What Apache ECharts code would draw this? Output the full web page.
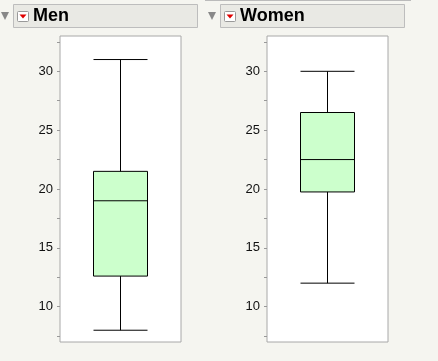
<!DOCTYPE html>
<html>
<head>
<meta charset="utf-8">
<script src="https://cdn.jsdelivr.net/npm/echarts@6/dist/echarts.min.js"></script>
<style>
html,body{margin:0;padding:0;background:#f5f5f0;}
#c{width:438px;height:361px;}
</style>
</head>
<body>
<div id="c"></div>
<script>
const panels = ['Men', 'Women'];
// [min, Q1, median, Q3, max]
const menBox = [8, 12.6, 19, 21.5, 31];
const womenBox = [12, 19.75, 22.5, 26.5, 30];
const yLabels = [10, 15, 20, 25, 30];
const yTicks = [7.5, 10, 12.5, 15, 17.5, 20, 22.5, 25, 27.5, 30, 32.5];

const chart = echarts.init(document.getElementById('c'), null, {renderer: 'canvas'});
const gridPos = [{left: 60, width: 121}, {left: 267, width: 121}];
const font = 'Helvetica, Arial, "Liberation Sans", sans-serif';

function header(x, label) {
  return [
    {type: 'polygon', shape: {points: [[x - 12, 12], [x - 4, 12], [x - 8, 20]]}, style: {fill: '#888'}},
    {type: 'rect', shape: {x: x + 0.5, y: 4.5, width: 184, height: 23}, style: {fill: '#e9e9e4', stroke: '#bdbdbd', lineWidth: 1}},
    {type: 'rect', shape: {x: x + 4.5, y: 11.5, width: 11, height: 10, r: 1}, style: {fill: '#fff', stroke: '#999', lineWidth: 1}},
    {type: 'polygon', shape: {points: [[x + 6.5, 14.5], [x + 13.5, 14.5], [x + 10, 18.5]]}, style: {fill: '#e00000'}},
    {type: 'text', x: x + 20, y: 16, style: {text: label, font: 'bold 18px ' + font, fill: '#000', textVerticalAlign: 'middle'}}
  ];
}

const yAxisCommon = {
  type: 'value', min: 7, max: 33,
  axisLine: {show: false},
  splitLine: {show: false},
  axisTick: {show: true, length: 3, lineStyle: {color: '#999'}, customValues: yTicks},
  axisLabel: {customValues: yLabels, color: '#111', fontSize: 13, fontFamily: font, margin: 7}
};

chart.setOption({
  animation: false,
  backgroundColor: '#f5f5f0',
  graphic: [].concat(header(13, panels[0]), header(220, panels[1]),
    [{type: 'line', shape: {x1: 205, y1: 0.5, x2: 411, y2: 0.5}, style: {stroke: '#bbb', lineWidth: 1}}]),
  grid: gridPos.map(g => ({left: g.left, width: g.width, top: 36, height: 306, show: true, backgroundColor: '#fff', borderColor: '#a8a8a8', borderWidth: 1})),
  xAxis: [0, 1].map(i => ({type: 'category', gridIndex: i, data: [panels[i]], show: false})),
  yAxis: [0, 1].map(i => Object.assign({gridIndex: i}, yAxisCommon)),
  series: [menBox, womenBox].map((d, i) => ({
    type: 'boxplot', xAxisIndex: i, yAxisIndex: i,
    boxWidth: [54, 54],
    data: [d],
    itemStyle: {color: '#ccffcc', borderColor: '#000', borderWidth: 1}
  }))
});
</script>
</body>
</html>
